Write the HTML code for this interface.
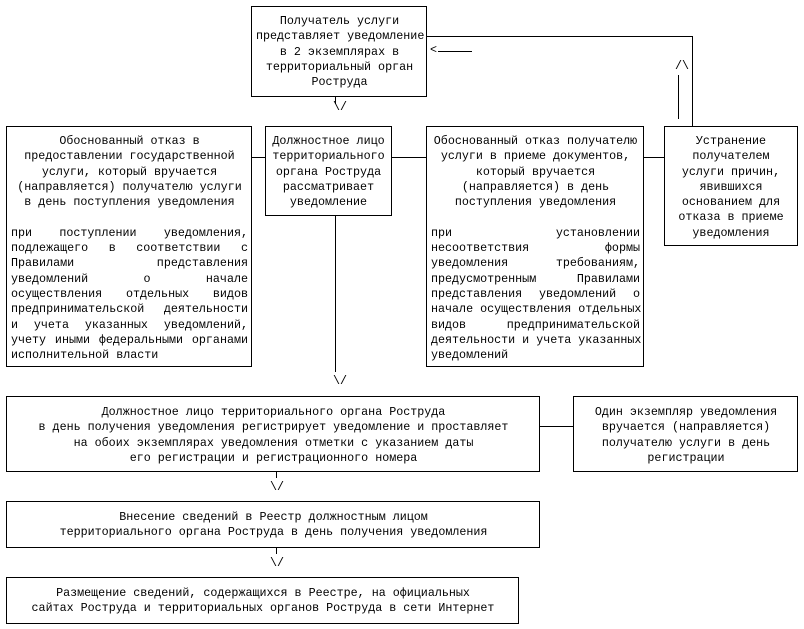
<!DOCTYPE html>
<html><head><meta charset="utf-8"><style>
body{margin:0;width:804px;height:629px;background:#fff;position:relative;overflow:hidden;font-family:"Liberation Mono","DejaVu Sans Mono",monospace;font-size:11.7px;line-height:15.3px;color:#000}
.b{position:absolute;border:1px solid #000;box-sizing:border-box;padding:7px 3px 0 4px}
.c{text-align:center;white-space:pre}
.j{text-align:justify;text-align-last:justify;white-space:nowrap}
.j>span{display:block;text-align:justify;text-align-last:justify}
.l{text-align:left}
.h{position:absolute;background:#000}
.t{position:absolute;white-space:pre}
</style></head><body>

<div class="b c" style="left:251px;top:6px;width:176px;height:91px">Получатель услуги
представляет уведомление
в 2 экземплярах в
территориальный орган
Роструда</div>

<div class="b" style="left:6px;top:126px;width:246px;height:241px"><div class="c">Обоснованный отказ в
предоставлении государственной
услуги, который вручается
(направляется) получателю услуги
в день поступления уведомления
 </div><div class="j"><span>при поступлении уведомления,</span><span>подлежащего в соответствии с</span><span>Правилами представления</span><span>уведомлений о начале</span><span>осуществления отдельных видов</span><span>предпринимательской деятельности</span><span>и учета указанных уведомлений,</span><span>учету иными федеральными органами</span></div><div class="l">исполнительной власти</div></div>

<div class="b c" style="left:265px;top:126px;width:127px;height:90px;padding-left:2px;padding-right:2px">Должностное лицо
территориального
органа Роструда
рассматривает
уведомление</div>

<div class="b" style="left:426px;top:126px;width:218px;height:241px"><div class="c">Обоснованный отказ получателю
услуги в приеме документов,
который вручается
(направляется) в день
поступления уведомления
 </div><div class="j"><span>при установлении</span><span>несоответствия формы</span><span>уведомления требованиям,</span><span>предусмотренным Правилами</span><span>представления уведомлений о</span><span>начале осуществления отдельных</span><span>видов предпринимательской</span><span>деятельности и учета указанных</span></div><div class="l">уведомлений</div></div>

<div class="b c" style="left:664px;top:126px;width:134px;height:120px;padding-left:1px;padding-right:1px">Устранение
получателем
услуги причин,
явившихся
основанием для
отказа в приеме
уведомления</div>

<div class="b c" style="left:6px;top:396px;width:534px;height:76px;padding-top:8px">Должностное лицо территориального органа Роструда
в день получения уведомления регистрирует уведомление и проставляет
на обоих экземплярах уведомления отметки с указанием даты
его регистрации и регистрационного номера</div>

<div class="b c" style="left:573px;top:396px;width:225px;height:76px;padding-top:8px">Один экземпляр уведомления
вручается (направляется)
получателю услуги в день
регистрации</div>

<div class="b c" style="left:6px;top:501px;width:534px;height:47px;padding-top:8px">Внесение сведений в Реестр должностным лицом
территориального органа Роструда в день получения уведомления</div>

<div class="b c" style="left:6px;top:577px;width:513px;height:47px;padding-top:8px">Размещение сведений, содержащихся в Реестре, на официальных
сайтах Роструда и территориальных органов Роструда в сети Интернет</div>

<!-- connectors -->
<div class="h" style="left:335px;top:97px;width:1px;height:7px"></div>
<div class="t" style="left:333px;top:100px">\/</div>
<div class="h" style="left:251px;top:157px;width:14px;height:1px"></div>
<div class="h" style="left:392px;top:157px;width:34px;height:1px"></div>
<div class="h" style="left:644px;top:157px;width:20px;height:1px"></div>
<div class="h" style="left:427px;top:36px;width:266px;height:1px"></div>
<div class="h" style="left:692px;top:36px;width:1px;height:90px"></div>
<div class="t" style="left:430px;top:43px">&lt;</div>
<div class="h" style="left:438px;top:51px;width:34px;height:1px"></div>
<div class="t" style="left:675px;top:59px">/\</div>
<div class="h" style="left:678px;top:75px;width:1px;height:44px"></div>
<div class="h" style="left:335px;top:216px;width:1px;height:156px"></div>
<div class="t" style="left:333px;top:374px">\/</div>
<div class="h" style="left:540px;top:426px;width:33px;height:1px"></div>
<div class="h" style="left:276px;top:472px;width:1px;height:6px"></div>
<div class="t" style="left:270px;top:480px">\/</div>
<div class="h" style="left:276px;top:548px;width:1px;height:6px"></div>
<div class="t" style="left:270px;top:556px">\/</div>
</body></html>
